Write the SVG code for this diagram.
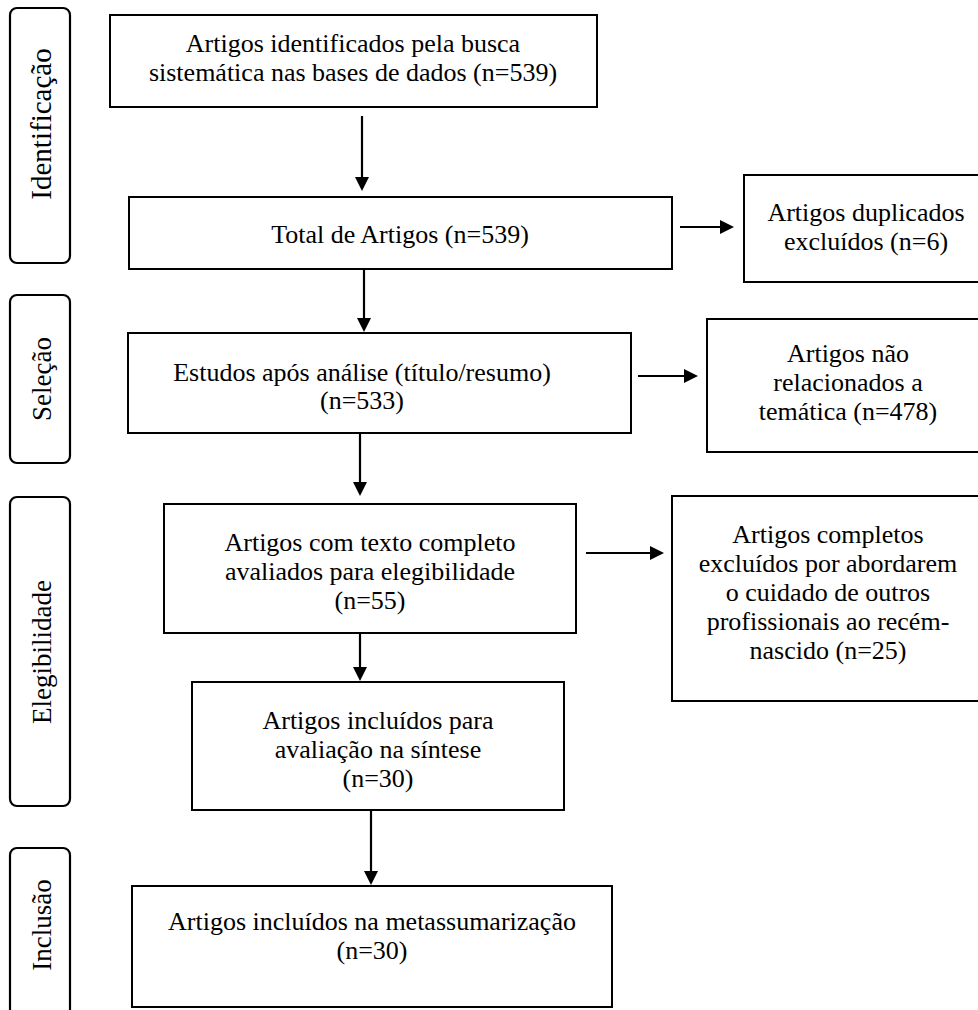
<svg xmlns="http://www.w3.org/2000/svg" width="978" height="1010" viewBox="0 0 978 1010">
<style>
  .box { fill: #ffffff; stroke: #000000; stroke-width: 2; }
  .phase { fill: #ffffff; stroke: #000000; stroke-width: 2.2; }
  .t { font-family: "Liberation Serif", "Times New Roman", serif; font-size: 26px; fill: #000000; text-anchor: middle; }
  .lbl { font-family: "Liberation Serif", "Times New Roman", serif; font-size: 27px; fill: #000000; text-anchor: middle; }
  .conn { stroke: #000000; stroke-width: 2.2; fill: none; marker-end: url(#arrow); }
</style>
<defs>
  <marker id="arrow" markerUnits="userSpaceOnUse" markerWidth="14" markerHeight="14" viewBox="0 0 14 14" refX="2" refY="7" orient="auto">
    <path d="M0,0 L14,7 L0,14 z" fill="#000000"/>
  </marker>
</defs>
<rect width="978" height="1010" fill="#ffffff"/>

<g id="phase-identificacao">
  <rect class="phase" x="10" y="8" width="60" height="255" rx="7"/>
  <text class="lbl" style="font-size:29px" transform="translate(51,124) rotate(-90)">Identificação</text>
</g>
<g id="phase-selecao">
  <rect class="phase" x="10" y="295" width="60" height="168" rx="7"/>
  <text class="lbl" transform="translate(51,379) rotate(-90)">Seleção</text>
</g>
<g id="phase-elegibilidade">
  <rect class="phase" x="10" y="497" width="60" height="309" rx="7"/>
  <text class="lbl" transform="translate(51,652) rotate(-90)">Elegibilidade</text>
</g>
<g id="phase-inclusao">
  <rect class="phase" x="10" y="848" width="60" height="180" rx="7"/>
  <text class="lbl" transform="translate(51,925) rotate(-90)">Inclusão</text>
</g>

<g id="connectors">
  <line class="conn" x1="362" y1="116" x2="362" y2="179"/>
  <line class="conn" x1="364" y1="269" x2="364" y2="320"/>
  <line class="conn" x1="360" y1="433" x2="360" y2="484"/>
  <line class="conn" x1="360" y1="633" x2="360" y2="669"/>
  <line class="conn" x1="371" y1="810" x2="371" y2="873"/>
  <line class="conn" x1="680" y1="227" x2="722" y2="227"/>
  <line class="conn" x1="638" y1="376" x2="686" y2="376"/>
  <line class="conn" x1="586" y1="553" x2="652" y2="553"/>
</g>

<g id="n1">
  <rect class="box" x="110" y="15" width="487" height="92"/>
  <text class="t" x="353" y="52">Artigos identificados pela busca</text>
  <text class="t" x="353" y="81">sistemática nas bases de dados (n=539)</text>
</g>
<g id="n2">
  <rect class="box" x="129" y="197" width="543" height="72"/>
  <text class="t" x="400" y="243">Total de Artigos (n=539)</text>
</g>
<g id="n3">
  <rect class="box" x="744" y="175" width="244" height="107"/>
  <text class="t" x="866" y="221">Artigos duplicados</text>
  <text class="t" x="866" y="250">excluídos (n=6)</text>
</g>
<g id="n4">
  <rect class="box" x="128" y="333" width="503" height="100"/>
  <text class="t" x="362" y="381">Estudos após análise (título/resumo)</text>
  <text class="t" x="362" y="409">(n=533)</text>
</g>
<g id="n5">
  <rect class="box" x="707" y="319" width="282" height="133"/>
  <text class="t" x="848" y="362">Artigos não</text>
  <text class="t" x="848" y="391">relacionados a</text>
  <text class="t" x="848" y="420">temática (n=478)</text>
</g>
<g id="n6">
  <rect class="box" x="164" y="504" width="412" height="129"/>
  <text class="t" x="370" y="551">Artigos com texto completo</text>
  <text class="t" x="370" y="580">avaliados para elegibilidade</text>
  <text class="t" x="370" y="609">(n=55)</text>
</g>
<g id="n7">
  <rect class="box" x="672" y="496" width="316" height="205"/>
  <text class="t" x="828" y="543">Artigos completos</text>
  <text class="t" x="828" y="572">excluídos por abordarem</text>
  <text class="t" x="828" y="601">o cuidado de outros</text>
  <text class="t" x="828" y="630">profissionais ao recém-</text>
  <text class="t" x="828" y="659">nascido (n=25)</text>
</g>
<g id="n8">
  <rect class="box" x="192" y="682" width="372" height="128"/>
  <text class="t" x="378" y="729">Artigos incluídos para</text>
  <text class="t" x="378" y="758">avaliação na síntese</text>
  <text class="t" x="378" y="787">(n=30)</text>
</g>
<g id="n9">
  <rect class="box" x="132" y="886" width="480" height="121"/>
  <text class="t" x="372" y="930">Artigos incluídos na metassumarização</text>
  <text class="t" x="372" y="959">(n=30)</text>
</g>
</svg>
